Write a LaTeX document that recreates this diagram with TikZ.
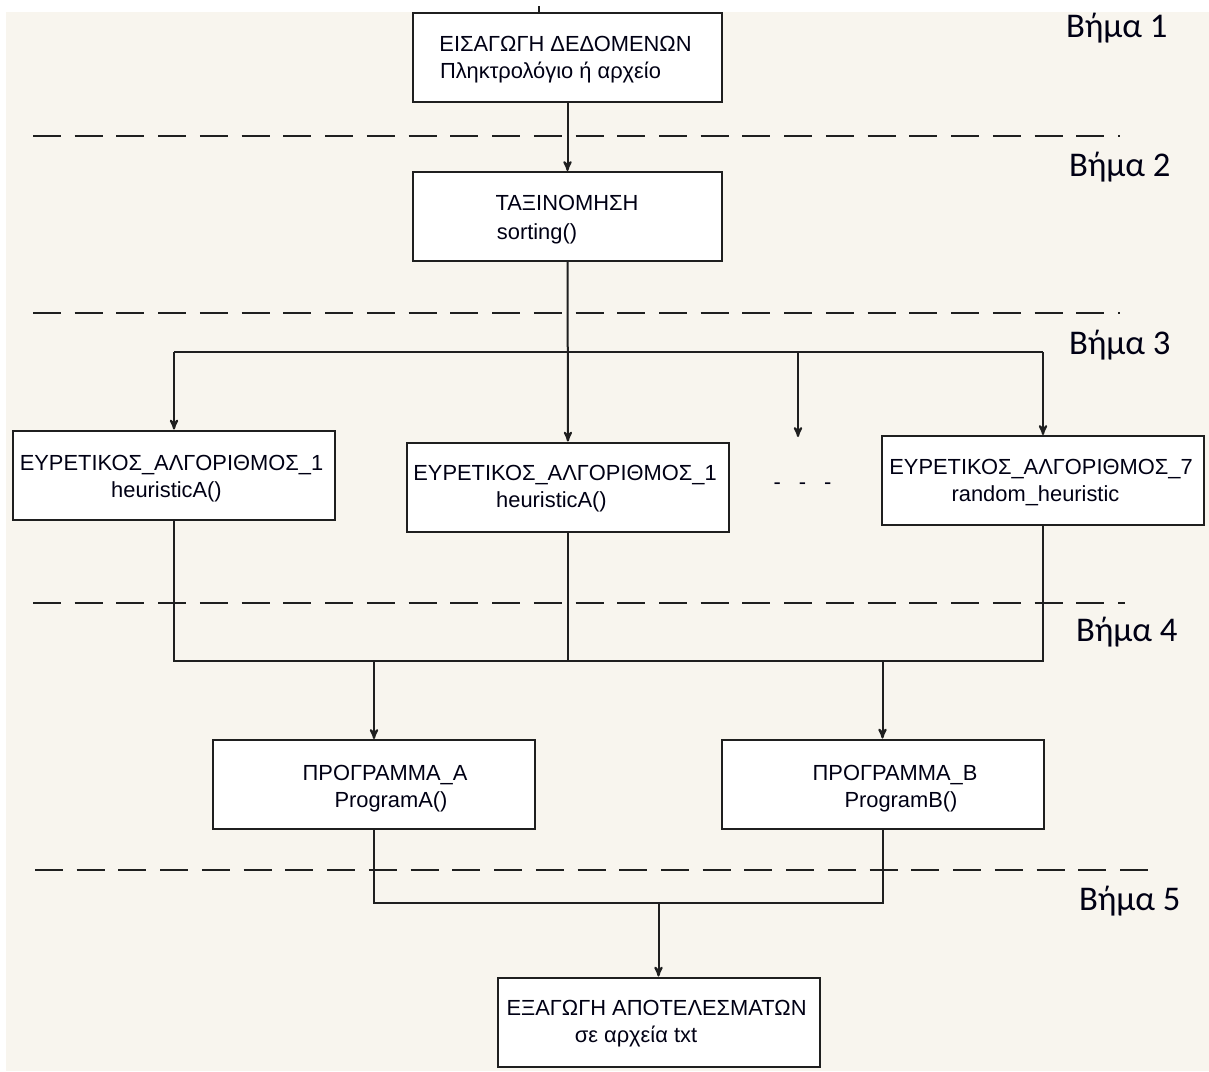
\documentclass[tikz,border=0pt]{standalone}
\usepackage{fontspec}
\setmainfont{Liberation Sans}
\newfontfamily\stepfont{Carlito}
\usepackage{xcolor}
\definecolor{colorPaper}{HTML}{F8F5EE}
\colorlet{colorLine}{black!88}
\colorlet{colorText}{black!92!blue}
\usetikzlibrary{arrows}
\tikzset{
  box/.style={draw=colorLine, fill=white, line width=1.5pt, minimum width=241.5pt, minimum height=66.75pt},
  txt/.style={anchor=base, inner sep=0pt, text=colorText, font=\fontsize{16.4}{20}\selectfont},
  stepname/.style={anchor=base west, inner sep=0pt, text=colorText, font=\stepfont\fontsize{26}{30}\selectfont},
  sep/.style={colorLine, line width=1.5pt, dash pattern=on 21pt off 10.3pt}
}

\begin{document}
\begin{tikzpicture}[x=0.75pt, y=-0.75pt, >=stealth', line width=1.5pt, color=colorLine]
\useasboundingbox (0,0) rectangle (1209,1071);
\fill[white] (0,0) rectangle (1209,1071);
\fill[colorPaper] (6,12) rectangle (1209,1071);
\foreach \y/\s/\e in {136/33/1120, 313/33/1120, 603/33/1125, 870/35/1155}
  \draw[sep] (\s,\y) -- (\e,\y);
\node[stepname] (s1) at (1065,37) {Βήμα 1};
\node[stepname] (s2) at (1068,176) {Βήμα 2};
\node[stepname] (s3) at (1068,354) {Βήμα 3};
\node[stepname] (s4) at (1075,641) {Βήμα 4};
\node[stepname] (s5) at (1078,910) {Βήμα 5};

\node[box, minimum width=231.75pt] (b1) at (567.5,57) {};
\node[txt] (b1a) at (565.5,51.5) {ΕΙΣΑΓΩΓΗ ΔΕΔΟΜΕΝΩΝ};
\node[txt] (b1b) at (550.5,78.5) {Πληκτρολόγιο ή αρχείο};
\node[box, minimum width=231.75pt] (b2) at (567.5,216.5) {};
\node[txt] (b2a) at (567,210.5) {ΤΑΞΙΝΟΜΗΣΗ};
\node[txt] (b2b) at (537,239) {sorting()};
\node[box] (h1) at (174,475) {};
\node[txt] (h1a) at (171.5,470.5) {ΕΥΡΕΤΙΚΟΣ\_ΑΛΓΟΡΙΘΜΟΣ\_1};
\node[txt] (h1b) at (166.5,497.5) {heuristicA()};
\node[box] (h2) at (568,487) {};
\node[txt] (h2a) at (565,480.5) {ΕΥΡΕΤΙΚΟΣ\_ΑΛΓΟΡΙΘΜΟΣ\_1};
\node[txt] (h2b) at (551.5,507.5) {heuristicA()};
\node[txt] (dots) at (802.5,489) {-\hspace{13.5pt}-\hspace{13.5pt}-};
\node[box] (h3) at (1043,480.5) {};
\node[txt] (h3a) at (1041,474.5) {ΕΥΡΕΤΙΚΟΣ\_ΑΛΓΟΡΙΘΜΟΣ\_7};
\node[txt] (h3b) at (1035.5,501.5) {random\_heuristic};
\node[box] (pa) at (374,784.5) {};
\node[txt] (paa) at (385,780.5) {ΠΡΟΓΡΑΜΜΑ\_Α};
\node[txt] (pab) at (391,807.5) {ProgramA()};
\node[box] (pb) at (882.5,784) {};
\node[txt] (pba) at (895,780.5) {ΠΡΟΓΡΑΜΜΑ\_Β};
\node[txt] (pbb) at (901,807.5) {ProgramB()};
\node[box] (out) at (658.5,1022) {};
\node[txt] (outa) at (656.5,1015.5) {ΕΞΑΓΩΓΗ ΑΠΟΤΕΛΕΣΜΑΤΩΝ};
\node[txt] (outb) at (636,1042.5) {σε αρχεία txt};

\coordinate (tk) at (539,0);
\coordinate (j1) at (0,352);
\coordinate (j2) at (0,661);
\coordinate (j3) at (0,903);
\coordinate (d) at (798,437);
\draw (tk |- b1.north) -- ++(0,-6);
\draw[->] (b1) -- (b2);
\draw[->] (b2) -- (h2);
\draw (j1 -| h1) -- (j1 -| h3);
\draw[->] (j1 -| h1) -- (h1);
\draw[->] (j1 -| d) -- (d);
\draw[->] (j1 -| h3) -- (h3);
\draw (h1) -- (j2 -| h1) -- (j2 -| h3) -- (h3);
\draw (h2) -- (j2 -| h2);
\draw[->] (j2 -| pa) -- (pa);
\draw[->] (j2 -| pb) -- (pb);
\draw (pa) -- (j3 -| pa) -- (j3 -| pb) -- (pb);
\draw[->] (j3 -| out) -- (out);
\end{tikzpicture}
\end{document}
